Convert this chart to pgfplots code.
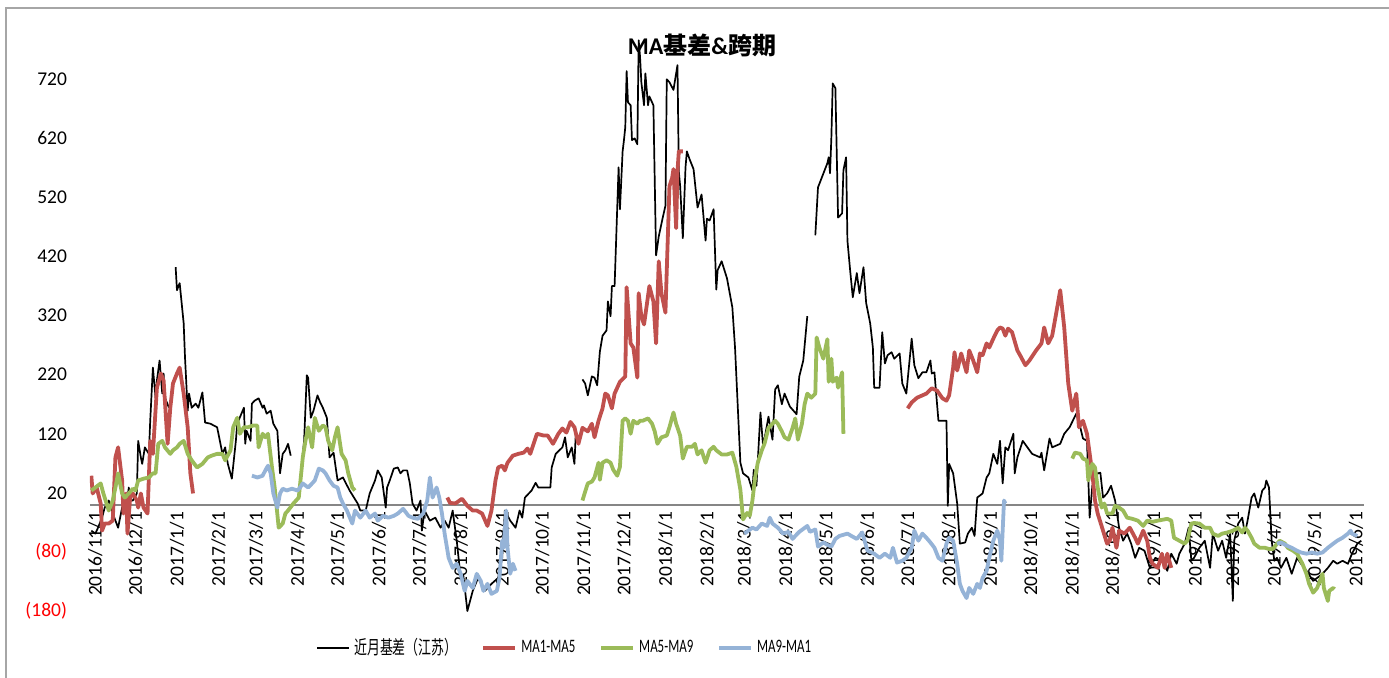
\documentclass[border=0pt]{standalone}
\usepackage{pgfplots}
\pgfplotsset{compat=1.18}
\usepackage{fontspec}
\setmainfont{Carlito}
\newfontfamily\cjk{Noto Sans CJK SC}
\definecolor{cRed}{HTML}{C0504D}
\definecolor{cGreen}{HTML}{9BBB59}
\definecolor{cBlue}{HTML}{95B3D7}
\definecolor{cAxis}{HTML}{868686}
\definecolor{cFrame}{HTML}{A6A6A6}
\begin{document}
\begin{tikzpicture}[x=0.5pt,y=0.5pt]
\useasboundingbox (-90,-66) rectangle (1299,611);
\draw[cFrame, line width=1pt] (-84,-70) -- (-84,603) -- (1305,603);
\begin{axis}[
  at={(0,0)}, anchor=south west,
  scale only axis, width=637pt, height=289.5pt,
  xmin=-1, xmax=951, ymin=-180, ymax=800,
  axis x line=middle, axis y line=left,
  x axis line style={-, cAxis, line width=1pt},
  y axis line style={draw=none},
  major tick length=0pt,
  ytick={-180,-80,20,120,220,320,420,520,620,720},
  yticklabels={{\color{red}(180)},{\color{red}(80)},20,120,220,320,420,520,620,720},
  yticklabel style={font=\fontsize{9.75}{11}\selectfont, xshift=-8pt},
  xtick={0,30,61,92,120,151,181,212,242,273,304,334,365,395,426,457,485,516,546,577,607,638,669,699,730,760,791,822,850,881,911,942},
  xticklabels={2016/11/1,2016/12/1,2017/1/1,2017/2/1,2017/3/1,2017/4/1,2017/5/1,2017/6/1,2017/7/1,2017/8/1,2017/9/1,2017/10/1,2017/11/1,2017/12/1,2018/1/1,2018/2/1,2018/3/1,2018/4/1,2018/5/1,2018/6/1,2018/7/1,2018/8/1,2018/9/1,2018/10/1,2018/11/1,2018/12/1,2019/1/1,2019/2/1,2019/3/1,2019/4/1,2019/5/1,2019/6/1},
  xticklabel style={rotate=90, anchor=east, font=\fontsize{9.75}{11}\selectfont, yshift=-2pt},
  unbounded coords=jump,
  legend style={draw=none, fill=none, at={(0.3735,-0.064)}, anchor=center,
    font=\fontsize{9.5}{11}\selectfont,
    /tikz/every even column/.append style={column sep=10pt}},
  legend columns=4,
  legend image code/.code={\draw[#1] (0pt,0pt) -- (16pt,0pt);},
  every axis plot/.append style={line join=round},
]
\addplot[black, line width=0.85pt] coordinates {
(0,-44)(3,-49)(5,-39)(8,-22)(10,-5)(13,7)(16,-15)(18,-27)(20,-39)(23,-5)(27,12)(28,29)(29,7)(31,7)(34,19)(35,108)(37,80)(38,69)(40,97)(43,86)(44,142)(46,232)(48,181)(49,210)(51,244)(53,188)(54,222)(55,181)(58,164)(60,nan)
(63,402)(64,363)(66,375)(69,307)(70,249)(72,159)(73,188)(75,164)(78,171)(80,164)(83,190)(85,139)(89,137)(94,131)(98,86)(100,97)(102,69)(105,44)(108,108)(109,137)(114,164)(115,103)(116,125)(119,108)(120,171)(122,176)(125,180)(128,164)(129,168)(131,154)(134,159)(136,137)(139,125)(141,53)(143,86)(145,92)(147,103)(149,83)(153,nan)
(158,86)(159,108)(161,219)(162,215)(164,147)(166,159)(169,185)(171,173)(173,164)(176,147)(178,80)(181,88)(184,41)(188,46)(193,24)(199,2)(201,-10)(205,-10)(208,19)(212,41)(214,58)(217,46)(220,-5)(221,29)(223,41)(226,61)(229,63)(231,53)(233,58)(236,58)(238,36)(240,2)(243,-10)(246,7)(247,-44)(249,-10)(253,-27)(257,-22)(261,-39)(264,-27)(267,-39)(270,-10)(273,-60)(276,-124)(278,-120)(281,-180)(285,-146)(289,-124)(294,-146)(299,-134)(304,-124)(307,-90)(309,-10)(313,-27)(317,-39)(320,-10)(322,-22)(324,12)(329,24)(332,37)(334,29)(343,29)(344,63)(347,86)(352,97)(354,114)(356,80)(359,97)(361,69)(362,120)(364,nan)
(367,212)(369,205)(371,185)(374,217)(376,215)(378,202)(380,259)(382,286)(385,295)(386,344)(388,319)(389,370)(391,370)(394,571)(395,500)(397,598)(398,617)(399,639)(400,734)(401,681)(403,676)(404,617)(406,620)(408,610)(409,786)(410,759)(411,715)(413,676)(414,730)(416,676)(417,691)(420,676)(422,422)(424,454)(427,486)(429,506)(430,720)(432,715)(435,702)(438,744)(439,564)(440,539)(442,451)(444,571)(445,598)(447,585)(450,568)(453,503)(456,525)(459,447)(460,484)(462,481)(465,500)(467,364)(468,397)(471,412)(475,383)(479,334)(481,266)(485,71)(487,53)(491,46)(494,24)(495,59)(497,32)(500,156)(502,98)(506,149)(509,110)(511,195)(513,202)(516,170)(518,188)(522,166)(527,153)(529,217)(532,244)(535,319)(538,nan)
(541,456)(543,537)(550,578)(551,588)(552,561)(553,622)(554,713)(556,705)(558,486)(561,493)(562,566)(564,588)(565,447)(567,397)(569,351)(572,392)(574,358)(577,402)(579,341)(582,307)(584,266)(585,198)(589,198)(591,292)(593,239)(595,253)(598,258)(600,247)(604,256)(606,205)(609,188)(613,281)(615,236)(618,214)(621,224)(624,224)(627,244)(628,222)(630,224)(633,142)(639,142)(640,-2)(641,69)(644,53)(647,2)(649,-66)(653,-64)(655,-49)(658,-39)(660,-53)(662,12)(666,19)(669,46)(671,53)(674,86)(677,69)(679,108)(681,36)(683,97)(685,92)(689,120)(690,53)(692,80)(696,108)(703,86)(709,80)(710,88)(712,58)(716,112)(718,97)(724,103)(727,120)(731,131)(736,154)(739,131)(741,112)(744,108)(746,-22)(748,32)(752,53)(754,54)(756,12)(759,19)(762,32)(765,7)(768,-39)(771,-61)(774,-49)(777,-66)(780,-90)(783,-73)(787,-78)(791,-107)(795,-90)(800,-95)(804,-112)(807,-83)(811,-100)(813,-83)(817,-66)(820,-39)(822,-95)(824,-90)(828,-73)(832,-61)(836,-107)(838,-49)(842,-78)(845,-61)(848,-90)(851,-49)(853,-163)(854,-61)(857,-32)(860,-22)(862,-49)(864,-27)(867,12)(869,19)(872,-5)(875,24)(877,29)(878,41)(880,29)(882,-61)(884,-95)(886,-90)(889,-107)(893,-90)(897,-117)(901,-90)(904,-100)(908,-112)(913,-129)(916,-124)(920,-117)(924,-107)(928,-95)(931,-100)(935,-95)(939,-100)(942,-83)(946,-66)(949,-61)
};
\addlegendentry{\scalebox{0.68}[1]{\cjk 近月基差（江苏）}}
\addplot[cRed, line width=1.9pt] coordinates {
(0,49)(1,19)(4,29)(7,2)(8,-44)(10,-32)(13,-32)(16,-27)(18,80)(20,97)(23,41)(24,-15)(26,19)(27,-49)(29,12)(31,19)(34,7)(35,-5)(37,19)(39,-5)(42,-15)(44,108)(46,86)(49,198)(52,222)(54,210)(57,103)(59,164)(61,205)(64,222)(66,232)(69,188)(72,131)(74,53)(76,19)(80,nan)
(266,12)(268,3)(272,2)(277,10)(281,-2)(285,-10)(288,-10)(292,-15)(296,-36)(299,-10)(302,41)(304,63)(307,66)(309,58)(311,71)(315,83)(319,86)(323,88)(326,95)(328,86)(333,120)(338,117)(341,117)(345,103)(349,120)(352,129)(355,122)(358,140)(361,131)(364,103)(367,130)(371,124)(374,137)(376,114)(379,142)(382,163)(384,188)(386,185)(389,163)(391,188)(395,208)(399,217)(400,368)(403,273)(405,266)(408,215)(409,358)(411,319)(413,305)(415,337)(417,370)(420,344)(422,273)(424,412)(426,358)(429,325)(430,397)(432,539)(434,553)(435,568)(437,468)(438,564)(439,598)(442,598)(450,nan)
(610,163)(613,173)(617,181)(621,185)(624,188)(628,197)(632,193)(636,180)(639,176)(641,185)(644,232)(645,258)(647,227)(650,256)(654,224)(656,261)(659,244)(662,224)(664,256)(666,253)(669,273)(671,266)(674,281)(677,295)(679,300)(681,298)(683,286)(685,298)(688,292)(692,261)(694,253)(698,236)(701,244)(706,261)(710,273)(712,300)(715,273)(718,286)(721,324)(724,363)(727,300)(730,205)(733,159)(736,188)(738,131)(741,142)(744,120)(748,53)(750,7)(752,-15)(756,-44)(759,-66)(761,-61)(763,-39)(766,-73)(768,-44)(772,-49)(776,-39)(780,-56)(782,-66)(786,-44)(789,-61)(791,-90)(793,-100)(797,-107)(800,-83)(802,-107)(804,-83)(807,-107)
};
\addlegendentry{\scalebox{0.68}[1]{MA1-MA5}}
\addplot[cGreen, line width=1.9pt] coordinates {
(0,24)(3,29)(7,36)(9,19)(13,-10)(16,7)(18,29)(20,53)(23,19)(25,12)(28,19)(31,27)(33,24)(35,41)(39,44)(43,46)(46,53)(48,53)(50,103)(53,108)(55,97)(59,86)(61,92)(64,97)(66,103)(69,108)(72,86)(75,75)(79,63)(83,69)(87,80)(90,83)(94,86)(98,86)(100,75)(104,92)(106,131)(109,147)(111,120)(114,131)(117,131)(121,134)(124,134)(125,97)(128,120)(130,114)(132,120)(135,63)(137,29)(140,-39)(143,-32)(145,-15)(147,-10)(151,2)(155,12)(158,80)(160,108)(162,131)(165,97)(167,147)(170,125)(173,134)(175,131)(177,108)(180,92)(182,114)(184,131)(187,86)(190,75)(192,53)(195,29)(197,24)(200,nan)
(367,7)(369,22)(371,36)(374,39)(376,46)(379,71)(380,42)(382,71)(385,75)(388,71)(390,59)(393,49)(395,64)(397,142)(399,146)(401,142)(403,120)(405,142)(408,137)(410,142)(412,142)(416,146)(419,137)(421,124)(423,103)(426,114)(430,117)(432,131)(435,156)(437,137)(440,117)(442,78)(445,98)(449,98)(451,103)(453,85)(456,92)(459,71)(462,92)(465,98)(467,92)(471,85)(475,85)(479,88)(482,64)(485,25)(487,-25)(490,-14)(492,-19)(494,7)(496,46)(498,71)(501,92)(503,103)(506,130)(509,137)(511,142)(513,137)(516,124)(518,114)(521,110)(524,130)(526,146)(528,110)(531,137)(533,170)(535,188)(538,181)(541,188)(542,283)(544,266)(547,247)(550,280)(551,208)(553,247)(554,208)(557,215)(558,198)(561,224)(562,120)(570,nan)
(733,78)(735,88)(739,86)(741,78)(744,75)(745,41)(748,69)(750,63)(752,29)(755,-5)(757,2)(759,-15)(763,-15)(765,-2)(768,-5)(771,-10)(774,-22)(778,-24)(782,-27)(786,-36)(789,-27)(793,-29)(797,-27)(804,-24)(807,-27)(809,-56)(813,-61)(817,-66)(819,-61)(822,-32)(824,-31)(828,-32)(832,-39)(836,-39)(838,-49)(842,-53)(845,-49)(849,-47)(853,-44)(857,-39)(860,-47)(862,-39)(864,-44)(867,-56)(869,-66)(873,-73)(877,-73)(880,-75)(883,-75)(886,-66)(888,-61)(892,-66)(894,-73)(898,-78)(901,-83)(905,-100)(908,-117)(910,-134)(913,-149)(916,-141)(918,-129)(920,-117)(921,-141)(924,-163)(925,-146)(928,-141)(929,-143)
};
\addlegendentry{\scalebox{0.68}[1]{MA5-MA9}}
\addplot[cBlue, line width=1.9pt] coordinates {
(120,49)(124,46)(128,49)(130,58)(132,66)(134,53)(136,19)(139,-5)(141,19)(143,27)(146,24)(150,27)(154,24)(156,29)(158,36)(162,29)(165,36)(167,41)(170,61)(173,58)(175,53)(178,41)(181,32)(184,29)(186,12)(188,2)(191,-10)(195,-32)(197,-10)(201,-22)(205,-10)(208,-22)(212,-15)(214,-27)(218,-19)(222,-22)(226,-19)(229,-15)(233,-7)(237,-19)(240,-22)(244,-24)(248,-15)(251,7)(253,46)(255,12)(258,29)(260,12)(262,-15)(264,-49)(267,-90)(270,-107)(273,-100)(276,-117)(279,-146)(281,-129)(285,-141)(288,-117)(291,-129)(293,-146)(296,-134)(299,-151)(303,-146)(305,-124)(307,-61)(308,-73)(310,-10)(311,-73)(313,-117)(315,-100)(317,-112)(320,nan)
(488,-49)(494,-39)(497,-42)(501,-32)(505,-36)(507,-22)(509,-32)(513,-39)(517,-49)(521,-46)(524,-58)(526,-53)(529,-46)(535,-36)(537,-46)(541,-42)(543,-71)(547,-64)(550,-68)(553,-71)(556,-58)(559,-53)(565,-49)(568,-53)(572,-58)(576,-47)(580,-78)(585,-83)(589,-90)(593,-83)(597,-90)(599,-73)(602,-98)(606,-95)(609,-90)(613,-73)(615,-44)(618,-61)(621,-49)(624,-56)(627,-64)(630,-73)(633,-90)(636,-95)(639,-66)(641,-56)(644,-61)(647,-100)(649,-134)(651,-146)(654,-158)(656,-141)(659,-151)(662,-134)(664,-141)(666,-124)(669,-112)(671,-90)(674,-61)(677,-44)(679,-61)(680,-95)(682,7)(683,2)(690,nan)
(886,-66)(889,-64)(893,-69)(897,-73)(901,-78)(904,-81)(908,-83)(912,-81)(916,-83)(920,-81)(924,-73)(928,-66)(931,-61)(935,-56)(939,-49)(941,-44)(942,-49)(946,-53)
};
\addlegendentry{\scalebox{0.68}[1]{MA9-MA1}}
\end{axis}
\node[font=\fontsize{12}{14}\selectfont\bfseries] at (612,566) {MA{\cjk 基差}\&{\cjk 跨期}};
\end{tikzpicture}
\end{document}
